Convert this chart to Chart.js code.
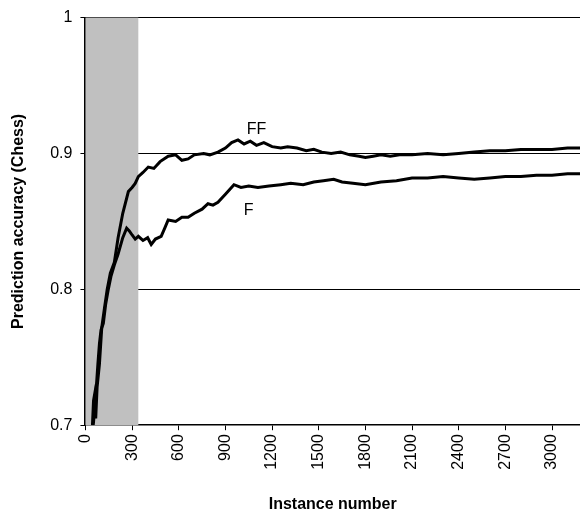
<!DOCTYPE html>
<html><head><meta charset="utf-8">
<script src="https://cdn.jsdelivr.net/npm/chart.js@4"></script>
<style>html,body{margin:0;padding:0;background:#fff}#w{width:580px;height:520px}</style>
</head><body><div id="w"><canvas id="c"></canvas></div>
<script>
const ffX=[45,52,58,66,75,90,105,122,140,160,186,210,240,276,300,320,340,370,404,440,480,532,580,620,660,700,760,800,852,900,940,981,1020,1060,1100,1147,1200,1256,1300,1360,1420,1468,1520,1580,1641,1700,1760,1800,1850,1900,1960,2020,2100,2200,2300,2400,2500,2600,2700,2800,2900,3000,3100,3180];
const ffY=[0.700,0.718,0.722,0.705,0.728,0.745,0.772,0.786,0.800,0.812,0.820,0.838,0.856,0.872,0.875,0.878,0.883,0.886,0.890,0.889,0.894,0.898,0.899,0.895,0.896,0.899,0.900,0.899,0.901,0.904,0.908,0.910,0.907,0.909,0.906,0.908,0.905,0.904,0.905,0.904,0.902,0.903,0.901,0.900,0.901,0.899,0.898,0.897,0.898,0.899,0.898,0.899,0.899,0.900,0.899,0.900,0.901,0.902,0.902,0.903,0.903,0.903,0.904,0.904];
const fX=[50,60,70,80,90,100,115,130,147,165,186,210,240,265,282,300,320,340,370,400,423,450,487,510,532,580,620,660,700,750,788,820,852,900,955,1000,1050,1109,1180,1256,1320,1400,1468,1530,1596,1650,1720,1800,1900,2000,2100,2200,2300,2400,2500,2600,2700,2800,2900,3000,3100,3180];
const fY=[0.700,0.712,0.728,0.745,0.760,0.770,0.775,0.789,0.800,0.810,0.818,0.826,0.838,0.845,0.843,0.840,0.837,0.839,0.836,0.838,0.833,0.837,0.839,0.845,0.851,0.850,0.853,0.853,0.856,0.859,0.863,0.862,0.864,0.870,0.877,0.875,0.876,0.875,0.876,0.877,0.878,0.877,0.879,0.880,0.881,0.879,0.878,0.877,0.879,0.880,0.882,0.882,0.883,0.882,0.881,0.882,0.883,0.883,0.884,0.884,0.885,0.885];
const xTicks=[0,300,600,900,1200,1500,1800,2100,2400,2700,3000];
const yTicks=[0.7,0.8,0.9,1];
const shadeEnd=340;
const fData=fX.map((x,i)=>({x:x,y:fY[i]}));
const ffData=ffX.map((x,i)=>({x:x,y:ffY[i]}));
const F='"Liberation Sans",Arial';
const plug={id:'p',
 beforeDatasetsDraw(ch){const{ctx,chartArea:a,scales:{x}}=ch;ctx.save();ctx.fillStyle='#c0c0c0';
  ctx.fillRect(x.getPixelForValue(0),a.top,x.getPixelForValue(shadeEnd)-x.getPixelForValue(0),a.bottom-a.top);ctx.restore();},
 afterDatasetsDraw(ch){const{ctx,scales:{x,y}}=ch;ctx.save();ctx.fillStyle='#000';ctx.font='16px '+F;ctx.textAlign='center';
  ctx.fillText('FF',x.getPixelForValue(1100),y.getPixelForValue(0.914));
  ctx.fillText('F',x.getPixelForValue(1050),y.getPixelForValue(0.855));ctx.restore();}};
new Chart(document.getElementById('c'),{type:'line',
 data:{datasets:[{data:ffData,borderColor:'#000',borderWidth:3,pointRadius:0,tension:0},
  {data:fData,borderColor:'#000',borderWidth:3,pointRadius:0,tension:0}]},
 options:{animation:false,responsive:true,maintainAspectRatio:false,
  layout:{padding:{left:5,right:0,top:6,bottom:2}},
  plugins:{legend:{display:false},tooltip:{enabled:false}},
  scales:{x:{type:'linear',min:0,max:3180,afterBuildTicks(s){s.ticks=xTicks.map(v=>({value:v}));},
    ticks:{maxRotation:90,minRotation:90,padding:4,color:'#000',font:{family:F,size:16},callback:v=>String(v)},
    grid:{display:true,color:'rgba(0,0,0,0)',drawTicks:true,tickColor:'#000',tickLength:5},border:{color:'#000',width:1.5},
    title:{display:true,text:'Instance number',padding:{top:21},color:'#000',font:{family:F,size:16,weight:'bold'}}},
   y:{min:0.7,max:1,afterBuildTicks(s){s.ticks=yTicks.map(v=>({value:v}));},
    ticks:{color:'#000',padding:8,font:{family:F,size:16},callback:v=>String(v)},
    grid:{color:c=>c.tick&&c.tick.value>0.75?'#000':'rgba(0,0,0,0)',lineWidth:1,drawTicks:true,tickColor:'#000',tickLength:5},border:{color:'#000',width:2},
    title:{display:true,text:'Prediction accuracy (Chess)',padding:{bottom:14},color:'#000',font:{family:F,size:16,weight:'bold'}}}}},
 plugins:[plug]});
</script></body></html>
